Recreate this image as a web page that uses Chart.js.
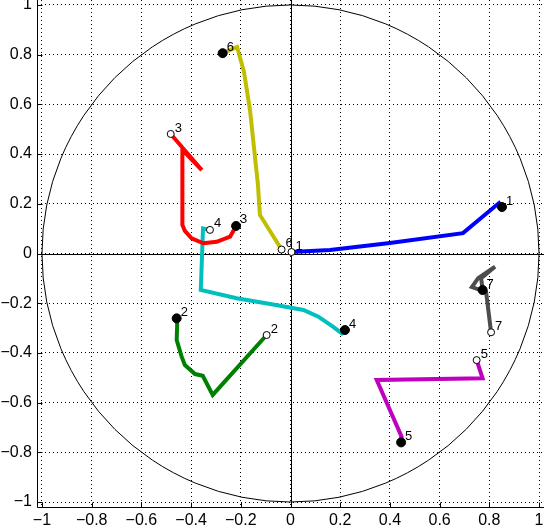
<!DOCTYPE html>
<html>
<head>
<meta charset="utf-8">
<script src="https://cdn.jsdelivr.net/npm/chart.js@4"></script>
<style>
  html, body { margin: 0; padding: 0; background: #fff; }
</style>
</head>
<body>
<canvas id="myChart" width="544" height="528"></canvas>
<script>
// axis ticks
const tickValues = [-1, -0.8, -0.6, -0.4, -0.2, 0, 0.2, 0.4, 0.6, 0.8, 1];
const tickLabels = ['−1', '−0.8', '−0.6', '−0.4', '−0.2', '0', '0.2', '0.4', '0.6', '0.8', '1'];

// one track per variable, first point = open circle, last point = filled circle
const trackNames = ['1', '2', '3', '4', '5', '6', '7'];
const trackColors = ['#0000ff', '#008000', '#ff0000', '#00bfbf', '#bf00bf', '#bfbf00', '#4d4d4d'];

const x1 = [0.004, 0.159, 0.400, 0.694, 0.839, 0.851];
const y1 = [0.006, 0.014, 0.042, 0.082, 0.203, 0.187];

const x2 = [-0.096, -0.313, -0.353, -0.384, -0.425, -0.438, -0.458, -0.456, -0.458];
const y2 = [-0.328, -0.569, -0.492, -0.485, -0.449, -0.415, -0.348, -0.288, -0.261];

const x3 = [-0.482, -0.357, -0.435, -0.435, -0.425, -0.398, -0.351, -0.297, -0.243, -0.219];
const y3 = [0.481, 0.336, 0.417, 0.115, 0.091, 0.061, 0.041, 0.047, 0.068, 0.111];

const x4 = [-0.324, -0.352, -0.361, -0.217, -0.082, 0.052, 0.112, 0.172, 0.206, 0.219];
const y4 = [0.095, 0.101, -0.147, -0.180, -0.203, -0.227, -0.254, -0.295, -0.321, -0.308];

const x5 = [0.749, 0.773, 0.347, 0.447, 0.445];
const y5 = [-0.429, -0.502, -0.509, -0.737, -0.760];

const x6 = [-0.036, -0.123, -0.131, -0.163, -0.187, -0.215, -0.273];
const y6 = [0.016, 0.155, 0.276, 0.577, 0.730, 0.831, 0.806];

const x7 = [0.807, 0.787, 0.730, 0.755, 0.823, 0.767, 0.773];
const y7 = [-0.317, -0.155, -0.135, -0.099, -0.053, -0.099, -0.147];

const tracksX = [x1, x2, x3, x4, x5, x6, x7];
const tracksY = [y1, y2, y3, y4, y5, y6, y7];

let toPoints = (xs, ys) => xs.map((x, i) => ({ x: x, y: ys[i] }));

const datasets = [];
// markers first so they sit on top of the lines
datasets.push({
  label: 'start',
  data: tracksX.map((xs, i) => ({ x: xs[0], y: tracksY[i][0] })),
  showLine: false,
  pointRadius: 3.5,
  pointBackgroundColor: '#fff',
  pointBorderColor: '#000',
  pointBorderWidth: 1,
  order: 0
});
datasets.push({
  label: 'end',
  data: tracksX.map((xs, i) => ({ x: xs[xs.length - 1], y: tracksY[i][xs.length - 1] })),
  showLine: false,
  pointRadius: 4.5,
  pointBackgroundColor: '#000',
  pointBorderColor: '#000',
  pointBorderWidth: 1,
  order: 0
});
tracksX.forEach((xs, i) => {
  datasets.push({
    label: trackNames[i],
    data: toPoints(xs, tracksY[i]),
    showLine: true,
    borderColor: trackColors[i],
    borderWidth: 4,
    pointRadius: 0,
    fill: false,
    order: 1
  });
});

// unit circle, zero lines, axes and inward ticks
const decor = {
  id: 'decor',
  beforeDatasetsDraw(chart) {
    const { ctx, chartArea: a, scales } = chart;
    const sx = scales.x, sy = scales.y;
    const cx = sx.getPixelForValue(0), cy = sy.getPixelForValue(0);
    const rx = sx.getPixelForValue(1) - cx, ry = cy - sy.getPixelForValue(1);
    ctx.save();
    ctx.strokeStyle = '#000';
    ctx.lineWidth = 1;
    ctx.beginPath();
    ctx.ellipse(cx, cy, rx, ry, 0, 0, Math.PI * 2);
    ctx.stroke();

    const zx = Math.round(cx) + 0.5, zy = Math.round(cy) + 0.5;
    const l = a.left + 0.5, b = a.bottom + 0.5;
    ctx.beginPath();
    ctx.moveTo(a.left, zy); ctx.lineTo(a.right, zy);
    ctx.moveTo(zx, a.top); ctx.lineTo(zx, a.bottom);
    ctx.moveTo(l, a.top); ctx.lineTo(l, b); ctx.lineTo(a.right, b);
    tickValues.forEach(v => {
      const px = Math.round(sx.getPixelForValue(v)) + 0.5;
      const py = Math.round(sy.getPixelForValue(v)) + 0.5;
      ctx.moveTo(px, b); ctx.lineTo(px, b - 5);
      ctx.moveTo(l, py); ctx.lineTo(l + 5, py);
    });
    ctx.stroke();
    ctx.restore();
  },
  afterDatasetsDraw(chart) {
    const ctx = chart.ctx;
    ctx.save();
    ctx.fillStyle = '#000';
    ctx.font = '13px "Liberation Sans"';
    ctx.textAlign = 'left';
    ctx.textBaseline = 'middle';
    [0, 1].forEach(di => {
      chart.getDatasetMeta(di).data.forEach((pt, k) => {
        ctx.fillText(trackNames[k], pt.x + 4, pt.y - 6);
      });
    });
    ctx.restore();
  }
};

let axis = (size) => ({
  type: 'linear',
  min: -1.02,
  max: 1.02,
  afterBuildTicks: s => { s.ticks = tickValues.map(v => ({ value: v })); },
  afterFit: s => {
    if (s.isHorizontal()) s.height = size; else s.width = size;
    s.paddingTop = 0; s.paddingBottom = 0; s.paddingLeft = 0; s.paddingRight = 0;
  },
  ticks: {
    autoSkip: false,
    maxRotation: 0,
    padding: 0,
    color: '#000',
    font: { family: 'Liberation Sans', size: 16 },
    callback: (v, i) => tickLabels[i]
  },
  grid: { color: '#000', lineWidth: 1, drawTicks: false },
  border: { display: false, dash: [1, 3] }
});

const xAxis = axis(21);
xAxis.ticks.padding = 4;
const yAxis = axis(37);
yAxis.ticks.padding = 5;

const chart = new Chart(document.getElementById('myChart'), {
  type: 'scatter',
  data: { datasets: datasets },
  options: {
    responsive: false,
    animation: false,
    layout: { padding: 0, autoPadding: false },
    plugins: { legend: { display: false }, tooltip: { enabled: false } },
    scales: { x: xAxis, y: yAxis }
  },
  plugins: [decor]
});
</script>
</body>
</html>
